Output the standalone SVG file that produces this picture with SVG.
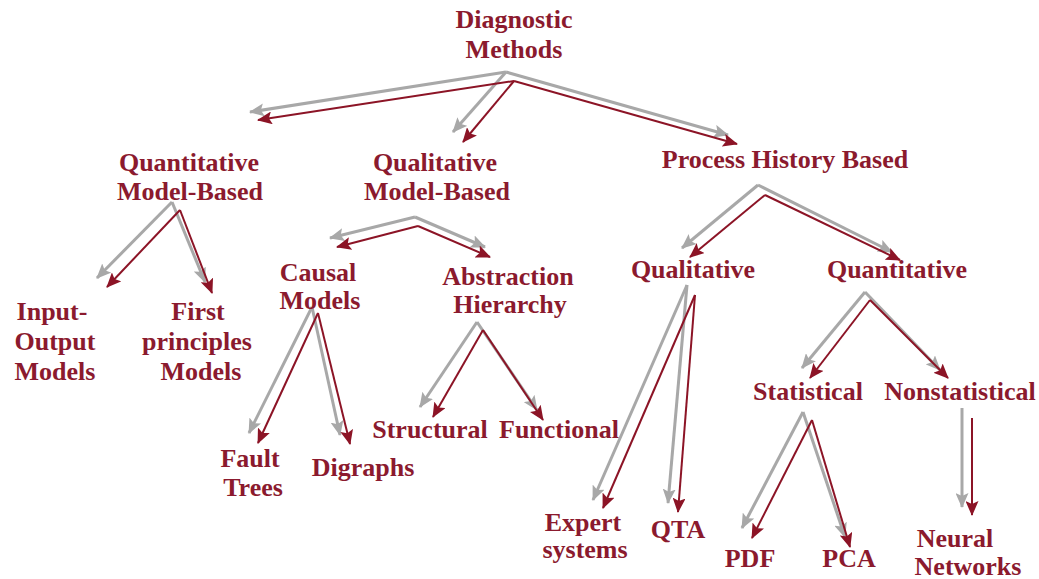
<svg xmlns="http://www.w3.org/2000/svg" width="1039" height="579" viewBox="0 0 1039 579">
<defs>
<style>
.t{font-family:"Liberation Serif","Times New Roman",serif;font-weight:bold;font-size:26px;fill:#8b1a2e;text-anchor:middle}
.g{fill:none;stroke:#a8a8a8;stroke-width:3;stroke-linejoin:round;marker-end:url(#ag)}
.r{fill:none;stroke:#8c1426;stroke-width:2;stroke-linejoin:round;marker-end:url(#ar)}
</style>
<marker id="ag" markerUnits="userSpaceOnUse" markerWidth="15" markerHeight="13" refX="14" refY="6.5" orient="auto"><path d="M0,0 L15,6.5 L0,13 L3,6.5 z" fill="#a8a8a8"/></marker>
<marker id="ar" markerUnits="userSpaceOnUse" markerWidth="15" markerHeight="13" refX="14" refY="6.5" orient="auto"><path d="M0,0 L15,6.5 L0,13 L3,6.5 z" fill="#8c1426"/></marker>
</defs>
<rect width="1039" height="579" fill="#ffffff"/>
<g id="connectors">
<path class="g" d="M506,72 L250,112"/><path class="g" d="M506,72 L453,132"/><path class="g" d="M506,72 L728,135"/>
<path class="r" d="M514,81 L258,120"/><path class="r" d="M514,81 L463,142"/><path class="r" d="M514,81 L737,144"/>
<path class="g" d="M172,202 L97,278"/><path class="g" d="M172,202 L205,282"/>
<path class="r" d="M180,210 L107,287"/><path class="r" d="M180,210 L212,293"/>
<path class="g" d="M415,217 L330,238"/><path class="g" d="M415,217 L485,247"/>
<path class="r" d="M418,226 L337,247"/><path class="r" d="M418,226 L490,257"/>
<path class="g" d="M758,185 L682,248"/><path class="g" d="M758,185 L892,252"/>
<path class="r" d="M765,195 L690,257"/><path class="r" d="M765,195 L900,260"/>
<path class="g" d="M312,307 L249,433"/><path class="g" d="M312,307 L340,435"/>
<path class="r" d="M318,313 L258,443"/><path class="r" d="M318,313 L350,444"/>
<path class="g" d="M477,322 L420,407"/><path class="g" d="M477,322 L537,410"/>
<path class="r" d="M483,330 L433,417"/><path class="r" d="M483,330 L543,420"/>
<path class="g" d="M687,285 L593,500"/><path class="g" d="M687,285 L668,503"/>
<path class="r" d="M695,295 L603,508"/><path class="r" d="M695,295 L678,512"/>
<path class="g" d="M865,292 L802,368"/><path class="g" d="M865,292 L940,370"/>
<path class="r" d="M870,300 L810,378"/><path class="r" d="M870,300 L948,378"/>
<path class="g" d="M803,412 L742,528"/><path class="g" d="M803,412 L845,537"/>
<path class="r" d="M812,420 L752,538"/><path class="r" d="M812,420 L850,547"/>
<path class="g" d="M962,408 L962,507"/>
<path class="r" d="M972,418 L972,515"/>
</g>
<g id="n-diagnostic"><text class="t" x="514" y="28">Diagnostic</text><text class="t" x="514" y="58">Methods</text></g>
<g id="n-quant-model"><text class="t" x="189" y="171">Quantitative</text><text class="t" x="190" y="200">Model-Based</text></g>
<g id="n-qual-model"><text class="t" x="435" y="171">Qualitative</text><text class="t" x="437" y="200">Model-Based</text></g>
<g id="n-process"><text class="t" x="785" y="168">Process History Based</text></g>
<g id="n-io"><text class="t" x="52" y="320">Input-</text><text class="t" x="55" y="350">Output</text><text class="t" x="55" y="380">Models</text></g>
<g id="n-first"><text class="t" x="198" y="320">First</text><text class="t" x="197" y="350">principles</text><text class="t" x="201" y="380">Models</text></g>
<g id="n-causal"><text class="t" x="318" y="281">Causal</text><text class="t" x="320" y="309">Models</text></g>
<g id="n-abstraction"><text class="t" x="508" y="285">Abstraction</text><text class="t" x="510" y="313">Hierarchy</text></g>
<g id="n-qualitative"><text class="t" x="693" y="278">Qualitative</text></g>
<g id="n-quantitative"><text class="t" x="897" y="278">Quantitative</text></g>
<g id="n-statistical"><text class="t" x="808" y="400">Statistical</text></g>
<g id="n-nonstatistical"><text class="t" x="960" y="400">Nonstatistical</text></g>
<g id="n-structural"><text class="t" x="430" y="438">Structural</text></g>
<g id="n-functional"><text class="t" x="559" y="438">Functional</text></g>
<g id="n-fault"><text class="t" x="250" y="467">Fault</text><text class="t" x="253" y="496">Trees</text></g>
<g id="n-digraphs"><text class="t" x="363" y="476">Digraphs</text></g>
<g id="n-expert"><text class="t" x="583" y="531">Expert</text><text class="t" x="585" y="558">systems</text></g>
<g id="n-qta"><text class="t" x="678" y="538">QTA</text></g>
<g id="n-pdf"><text class="t" x="750" y="567">PDF</text></g>
<g id="n-pca"><text class="t" x="849" y="567">PCA</text></g>
<g id="n-neural"><text class="t" x="955" y="547">Neural</text><text class="t" x="968" y="575">Networks</text></g>
</svg>
